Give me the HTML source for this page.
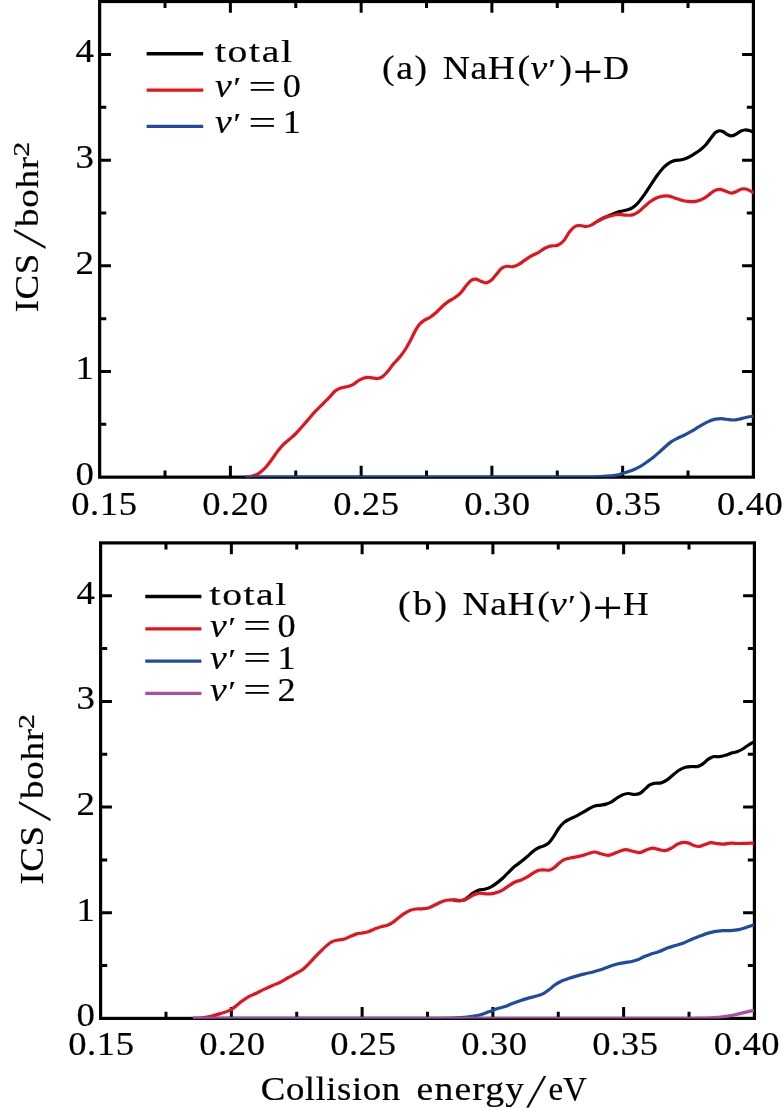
<!DOCTYPE html>
<html lang="en">
<head>
<meta charset="utf-8">
<title>ICS vs collision energy</title>
<style>
html,body{margin:0;padding:0;background:#fff;}
body{width:784px;height:1108px;overflow:hidden;}
svg{display:block;}
</style>
</head>
<body>
<svg width="784" height="1108" viewBox="0 0 784 1108" font-family="'Liberation Serif', 'DejaVu Serif', serif" font-size="33.0" fill="#000">
<style>text{stroke:#000;stroke-width:0.2px;}</style>
<rect x="99.65" y="1.50" width="653.75" height="475.65" fill="none" stroke="#000" stroke-width="3.20"/>
<path d="M165.02 477.15V470.55M165.02 1.50V8.10M230.40 477.15V465.85M230.40 1.50V12.80M295.78 477.15V470.55M295.78 1.50V8.10M361.15 477.15V465.85M361.15 1.50V12.80M426.53 477.15V470.55M426.53 1.50V8.10M491.90 477.15V465.85M491.90 1.50V12.80M557.28 477.15V470.55M557.28 1.50V8.10M622.65 477.15V465.85M622.65 1.50V12.80M688.02 477.15V470.55M688.02 1.50V8.10M99.65 424.32H106.25M753.40 424.32H746.80M99.65 371.50H110.95M753.40 371.50H742.10M99.65 318.67H106.25M753.40 318.67H746.80M99.65 265.85H110.95M753.40 265.85H742.10M99.65 213.02H106.25M753.40 213.02H746.80M99.65 160.20H110.95M753.40 160.20H742.10M99.65 107.37H106.25M753.40 107.37H746.80M99.65 54.55H110.95M753.40 54.55H742.10" stroke="#000" stroke-width="3.00" fill="none"/>
<rect x="100.60" y="542.90" width="653.80" height="475.50" fill="none" stroke="#000" stroke-width="3.20"/>
<path d="M165.98 1018.40V1011.80M165.98 542.90V549.50M231.36 1018.40V1007.10M231.36 542.90V554.20M296.74 1018.40V1011.80M296.74 542.90V549.50M362.12 1018.40V1007.10M362.12 542.90V554.20M427.50 1018.40V1011.80M427.50 542.90V549.50M492.88 1018.40V1007.10M492.88 542.90V554.20M558.26 1018.40V1011.80M558.26 542.90V549.50M623.64 1018.40V1007.10M623.64 542.90V554.20M689.02 1018.40V1011.80M689.02 542.90V549.50M100.60 965.57H107.20M754.40 965.57H747.80M100.60 912.75H111.90M754.40 912.75H743.10M100.60 859.92H107.20M754.40 859.92H747.80M100.60 807.10H111.90M754.40 807.10H743.10M100.60 754.27H107.20M754.40 754.27H747.80M100.60 701.45H111.90M754.40 701.45H743.10M100.60 648.62H107.20M754.40 648.62H747.80M100.60 595.80H111.90M754.40 595.80H743.10" stroke="#000" stroke-width="3.00" fill="none"/>
<defs><clipPath id="ca"><rect x="99.65" y="1.50" width="654.05" height="475.65"/></clipPath><clipPath id="cb"><rect x="100.60" y="542.90" width="654.10" height="475.50"/></clipPath></defs>
<g clip-path="url(#ca)">
<path d="M597.30 221.40C599.37 220.27 601.43 219.01 603.50 218.00C605.87 216.84 608.23 215.97 610.60 215.00C613.20 213.93 615.80 212.71 618.40 211.90C621.10 211.06 623.80 210.96 626.50 210.10C628.53 209.45 630.57 209.04 632.60 207.70C634.60 206.39 636.60 204.44 638.60 202.20C640.63 199.92 642.67 196.98 644.70 194.10C646.73 191.22 648.77 187.97 650.80 184.90C652.83 181.83 654.87 178.50 656.90 175.70C658.97 172.86 661.03 170.16 663.10 168.00C665.13 165.87 667.17 164.07 669.20 162.80C671.23 161.53 673.27 160.90 675.30 160.40C677.33 159.90 679.37 160.24 681.40 159.80C683.47 159.35 685.53 158.63 687.60 157.70C689.63 156.79 691.67 155.55 693.70 154.30C695.73 153.05 697.77 151.80 699.80 150.20C701.83 148.60 703.87 146.99 705.90 144.70C707.60 142.79 709.30 140.19 711.00 138.00C712.37 136.24 713.73 134.00 715.10 132.80C716.47 131.60 717.83 130.97 719.20 130.80C720.57 130.63 721.93 131.17 723.30 131.80C724.63 132.42 725.97 133.82 727.30 134.50C728.67 135.20 730.03 135.90 731.40 135.90C732.77 135.90 734.13 135.15 735.50 134.50C737.20 133.69 738.90 131.97 740.60 131.20C741.97 130.58 743.33 130.13 744.70 130.00C746.07 129.87 747.43 130.11 748.80 130.40C750.33 130.73 751.87 131.47 753.40 132.00" fill="none" stroke="#000" stroke-width="3.20" stroke-linejoin="round" stroke-linecap="butt"/>
<path d="M244.90 477.15C246.60 477.00 248.30 477.02 250.00 476.70C251.37 476.44 252.73 476.11 254.10 475.60C256.03 474.88 257.97 473.98 259.90 472.60C261.93 471.15 263.97 469.26 266.00 467.00C268.00 464.78 270.00 461.90 272.00 459.20C274.00 456.50 276.00 453.37 278.00 450.80C279.90 448.36 281.80 446.02 283.70 444.10C285.73 442.04 287.77 440.77 289.80 439.00C291.83 437.23 293.87 435.55 295.90 433.50C297.93 431.45 299.97 429.00 302.00 426.70C304.07 424.37 306.13 422.00 308.20 419.60C310.23 417.24 312.27 414.62 314.30 412.40C316.33 410.18 318.37 408.33 320.40 406.30C322.43 404.27 324.47 402.23 326.50 400.20C327.67 399.03 328.83 397.92 330.00 396.70C331.70 394.92 333.40 392.43 335.10 391.00C337.23 389.20 339.37 388.55 341.50 387.80C343.63 387.05 345.77 387.13 347.90 386.50C349.60 385.99 351.30 385.49 353.00 384.60C355.10 383.50 357.20 381.26 359.30 380.10C361.43 378.92 363.57 377.98 365.70 377.60C367.83 377.22 369.97 377.63 372.10 377.80C374.00 377.95 375.90 378.77 377.80 378.50C379.30 378.28 380.80 377.89 382.30 376.90C384.00 375.78 385.70 373.72 387.40 371.80C389.53 369.39 391.67 366.05 393.80 363.50C395.93 360.95 398.07 359.16 400.20 356.50C401.90 354.38 403.60 352.15 405.30 349.50C407.00 346.85 408.70 343.78 410.40 340.60C412.10 337.42 413.80 333.34 415.50 330.40C416.77 328.21 418.03 326.17 419.30 324.60C421.00 322.49 422.70 321.37 424.40 320.20C426.20 318.96 428.00 318.63 429.80 317.50C431.83 316.23 433.87 314.60 435.90 312.80C437.93 311.00 439.97 308.55 442.00 306.70C444.07 304.82 446.13 303.06 448.20 301.60C450.23 300.17 452.27 299.42 454.30 298.00C456.33 296.58 458.37 295.22 460.40 293.10C462.43 290.98 464.47 287.59 466.50 285.30C468.20 283.38 469.90 281.19 471.60 280.20C472.97 279.41 474.33 279.15 475.70 279.20C477.40 279.27 479.10 280.60 480.80 281.20C482.50 281.80 484.20 282.90 485.90 282.80C487.60 282.70 489.30 281.93 491.00 280.60C492.77 279.21 494.53 276.57 496.30 274.50C498.00 272.50 499.70 269.77 501.40 268.40C503.10 267.03 504.80 266.63 506.50 266.30C508.57 265.89 510.63 267.04 512.70 266.70C514.73 266.36 516.77 265.38 518.80 264.30C520.83 263.22 522.87 261.57 524.90 260.20C526.93 258.83 528.97 257.29 531.00 256.10C533.40 254.69 535.80 253.96 538.20 252.60C540.57 251.26 542.93 249.15 545.30 248.00C547.33 247.01 549.37 246.35 551.40 245.90C553.47 245.44 555.53 246.17 557.60 245.30C559.63 244.45 561.67 243.08 563.70 240.80C565.73 238.52 567.77 234.10 569.80 231.60C571.50 229.51 573.20 227.52 574.90 226.50C576.60 225.48 578.30 225.55 580.00 225.50C582.03 225.43 584.07 226.65 586.10 226.50C587.80 226.37 589.50 225.82 591.20 225.10C593.23 224.23 595.27 222.57 597.30 221.40C599.37 220.21 601.43 218.89 603.50 218.00C605.87 216.98 608.23 216.48 610.60 215.90C613.23 215.25 615.87 214.52 618.50 214.40C621.17 214.28 623.83 215.16 626.50 215.20C628.53 215.23 630.57 215.48 632.60 214.90C634.60 214.33 636.60 213.22 638.60 211.80C640.63 210.36 642.67 208.07 644.70 206.30C646.73 204.53 648.77 202.63 650.80 201.20C652.83 199.77 654.87 198.55 656.90 197.70C658.97 196.84 661.03 196.36 663.10 196.10C665.13 195.84 667.17 195.75 669.20 196.10C671.23 196.45 673.27 197.52 675.30 198.20C677.33 198.88 679.37 199.67 681.40 200.20C683.47 200.74 685.53 201.17 687.60 201.40C689.63 201.63 691.67 201.80 693.70 201.60C695.73 201.40 697.77 200.95 699.80 200.20C701.83 199.45 703.87 198.44 705.90 197.10C707.60 195.98 709.30 194.31 711.00 193.10C712.37 192.12 713.73 191.02 715.10 190.40C716.80 189.63 718.50 189.30 720.20 189.40C721.90 189.50 723.60 190.44 725.30 191.00C727.33 191.67 729.37 193.15 731.40 193.10C733.10 193.06 734.80 192.08 736.50 191.40C738.20 190.72 739.90 189.36 741.60 189.00C742.97 188.71 744.33 188.73 745.70 189.00C747.07 189.27 748.43 189.92 749.80 190.60C751.17 191.28 752.53 192.27 753.90 193.10" fill="none" stroke="#e5141c" stroke-width="3.20" stroke-linejoin="round" stroke-linecap="butt"/>
<path d="M244.90 477.15C249.93 477.15 254.97 477.15 260.00 477.15C363.33 477.15 466.67 477.15 570.00 477.15C574.00 477.15 578.00 477.18 582.00 477.15C585.33 477.12 588.67 477.10 592.00 477.00C594.67 476.92 597.33 476.80 600.00 476.65C603.40 476.46 606.80 476.29 610.20 475.90C612.93 475.59 615.67 475.32 618.40 474.70C621.10 474.08 623.80 473.11 626.50 472.20C629.23 471.28 631.97 470.42 634.70 469.20C636.73 468.29 638.77 467.30 640.80 466.10C642.83 464.90 644.87 463.42 646.90 462.00C648.97 460.56 651.03 459.15 653.10 457.50C655.13 455.88 657.17 454.00 659.20 452.20C661.23 450.40 663.27 448.47 665.30 446.70C667.33 444.93 669.37 443.01 671.40 441.60C673.47 440.17 675.53 439.22 677.60 438.20C679.63 437.19 681.67 436.50 683.70 435.50C685.73 434.50 687.77 433.35 689.80 432.20C691.83 431.05 693.87 429.82 695.90 428.60C697.93 427.38 699.97 426.06 702.00 424.90C704.07 423.72 706.13 422.54 708.20 421.60C709.90 420.83 711.60 420.07 713.30 419.60C715.00 419.13 716.70 418.93 718.40 418.80C720.10 418.67 721.80 418.67 723.50 418.80C725.20 418.93 726.90 419.40 728.60 419.60C730.30 419.80 732.00 420.07 733.70 420.00C735.40 419.93 737.10 419.54 738.80 419.20C740.83 418.80 742.87 418.15 744.90 417.70C746.93 417.25 748.97 416.85 751.00 416.50C751.83 416.36 752.67 416.23 753.50 416.10" fill="none" stroke="#1f4ca0" stroke-width="3.20" stroke-linejoin="round" stroke-linecap="butt"/>
</g>
<g clip-path="url(#cb)">
<path d="M452.70 899.80C454.73 900.07 456.77 900.61 458.80 900.60C460.50 900.59 462.20 900.72 463.90 900.00C465.43 899.35 466.97 897.99 468.50 896.80C469.87 895.74 471.23 894.29 472.60 893.30C474.53 891.91 476.47 890.88 478.40 890.20C480.43 889.48 482.47 889.72 484.50 889.20C486.53 888.68 488.57 888.12 490.60 887.10C492.63 886.08 494.67 884.60 496.70 883.10C498.77 881.57 500.83 879.90 502.90 878.00C504.93 876.13 506.97 873.78 509.00 871.80C511.03 869.82 513.07 867.80 515.10 866.10C517.13 864.40 519.17 863.20 521.20 861.60C523.23 860.00 525.27 858.25 527.30 856.50C529.37 854.72 531.43 852.54 533.50 851.00C535.20 849.73 536.90 848.65 538.60 847.80C540.30 846.95 542.00 846.72 543.70 845.90C545.40 845.08 547.10 844.53 548.80 842.90C550.50 841.27 552.20 838.58 553.90 836.10C555.60 833.62 557.30 830.28 559.00 828.00C560.70 825.72 562.40 823.87 564.10 822.40C566.13 820.64 568.17 819.85 570.20 818.80C572.23 817.75 574.27 817.13 576.30 816.10C578.33 815.07 580.37 813.77 582.40 812.60C584.47 811.41 586.53 810.09 588.60 809.00C590.63 807.93 592.67 806.75 594.70 806.10C596.73 805.45 598.77 805.46 600.80 805.10C602.53 804.79 604.27 804.60 606.00 804.10C607.67 803.62 609.33 803.10 611.00 802.20C612.70 801.28 614.40 799.72 616.10 798.60C618.13 797.26 620.17 795.75 622.20 794.90C624.27 794.04 626.33 793.56 628.40 793.50C630.43 793.44 632.47 794.57 634.50 794.50C636.20 794.45 637.90 794.35 639.60 793.50C641.30 792.65 643.00 790.83 644.70 789.40C646.40 787.97 648.10 785.92 649.80 784.90C651.50 783.88 653.20 783.64 654.90 783.30C656.93 782.89 658.97 783.48 661.00 782.90C663.03 782.32 665.07 781.15 667.10 779.80C669.17 778.43 671.23 776.35 673.30 774.70C675.33 773.08 677.37 771.23 679.40 770.00C681.43 768.77 683.47 767.88 685.50 767.30C687.53 766.72 689.57 766.63 691.60 766.50C693.67 766.36 695.73 767.08 697.80 766.50C699.50 766.02 701.20 765.08 702.90 763.90C704.60 762.72 706.30 760.60 708.00 759.40C709.70 758.20 711.40 757.19 713.10 756.70C715.13 756.11 717.17 756.93 719.20 756.70C721.23 756.47 723.27 755.90 725.30 755.30C727.33 754.70 729.37 753.71 731.40 753.10C733.47 752.48 735.53 752.40 737.60 751.60C739.30 750.94 741.00 750.02 742.70 749.00C744.40 747.98 746.10 746.60 747.80 745.50C749.87 744.17 751.93 743.03 754.00 741.80" fill="none" stroke="#000" stroke-width="3.20" stroke-linejoin="round" stroke-linecap="butt"/>
<path d="M192.90 1018.40C195.47 1018.27 198.03 1018.26 200.60 1018.00C204.00 1017.66 207.40 1017.07 210.80 1016.30C214.20 1015.53 217.60 1014.47 221.00 1013.40C223.73 1012.54 226.47 1012.03 229.20 1010.60C231.23 1009.54 233.27 1008.13 235.30 1006.60C237.33 1005.07 239.37 1002.94 241.40 1001.40C243.47 999.83 245.53 998.49 247.60 997.30C250.30 995.74 253.00 994.81 255.70 993.50C258.43 992.18 261.17 990.71 263.90 989.40C266.60 988.11 269.30 986.89 272.00 985.70C274.73 984.49 277.47 983.57 280.20 982.20C282.93 980.83 285.67 979.03 288.40 977.50C291.10 975.99 293.80 974.65 296.50 973.10C298.57 971.91 300.63 970.99 302.70 969.40C304.73 967.84 306.77 965.75 308.80 963.70C310.83 961.65 312.87 959.22 314.90 957.10C316.93 954.98 318.97 952.99 321.00 951.00C322.70 949.34 324.40 947.56 326.10 946.10C328.13 944.35 330.17 942.62 332.20 941.60C334.27 940.57 336.33 940.44 338.40 940.00C340.43 939.57 342.47 939.62 344.50 939.00C346.53 938.38 348.57 937.15 350.60 936.30C352.63 935.45 354.67 934.47 356.70 933.90C358.77 933.32 360.83 933.32 362.90 932.90C364.93 932.49 366.97 932.08 369.00 931.40C371.03 930.72 373.07 929.58 375.10 928.80C377.13 928.02 379.17 927.28 381.20 926.70C383.23 926.12 385.27 926.10 387.30 925.30C389.00 924.63 390.70 923.70 392.40 922.60C394.13 921.48 395.87 919.93 397.60 918.60C399.63 917.03 401.67 915.27 403.70 913.90C405.73 912.53 407.77 911.22 409.80 910.40C411.83 909.58 413.87 909.27 415.90 909.00C417.93 908.73 419.97 908.96 422.00 908.80C424.07 908.63 426.13 908.59 428.20 908.00C430.23 907.42 432.27 906.27 434.30 905.30C436.33 904.33 438.37 903.05 440.40 902.20C442.43 901.35 444.47 900.60 446.50 900.20C448.57 899.79 450.63 899.73 452.70 899.80C454.73 899.87 456.77 900.57 458.80 900.60C460.50 900.63 462.20 900.70 463.90 900.20C465.60 899.70 467.30 898.53 469.00 897.60C470.67 896.69 472.33 895.43 474.00 894.70C475.47 894.05 476.93 893.53 478.40 893.30C480.43 892.98 482.47 893.60 484.50 893.70C486.53 893.80 488.57 894.08 490.60 893.90C492.63 893.72 494.67 893.27 496.70 892.60C498.77 891.92 500.83 890.96 502.90 889.80C504.93 888.66 506.97 887.00 509.00 885.70C511.03 884.40 513.07 882.95 515.10 882.00C517.13 881.05 519.17 880.85 521.20 880.00C523.23 879.15 525.27 878.07 527.30 876.90C529.37 875.71 531.43 874.10 533.50 872.90C535.20 871.91 536.90 870.72 538.60 870.20C540.30 869.68 542.00 869.80 543.70 869.80C545.40 869.80 547.10 870.53 548.80 870.20C550.50 869.87 552.20 868.95 553.90 867.80C555.60 866.65 557.30 864.67 559.00 863.30C560.70 861.93 562.40 860.47 564.10 859.60C566.13 858.55 568.17 858.45 570.20 858.00C572.23 857.55 574.27 857.32 576.30 856.90C578.33 856.48 580.37 856.06 582.40 855.50C584.47 854.93 586.53 854.09 588.60 853.50C590.63 852.92 592.67 851.97 594.70 852.00C596.73 852.03 598.77 853.19 600.80 853.70C603.27 854.32 605.73 855.41 608.20 855.30C610.90 855.18 613.60 853.49 616.30 852.60C619.37 851.59 622.43 849.66 625.50 849.60C627.90 849.56 630.30 850.70 632.70 851.20C635.07 851.70 637.43 852.83 639.80 852.60C642.17 852.37 644.53 850.56 646.90 849.80C648.97 849.14 651.03 848.23 653.10 848.20C655.13 848.17 657.17 849.20 659.20 849.60C661.23 850.00 663.27 850.83 665.30 850.60C667.33 850.37 669.37 849.27 671.40 848.20C673.47 847.11 675.53 845.07 677.60 844.10C679.63 843.15 681.67 842.51 683.70 842.40C685.40 842.31 687.10 842.58 688.80 843.10C690.50 843.62 692.20 844.93 693.90 845.50C695.60 846.07 697.30 846.57 699.00 846.50C701.03 846.41 703.07 845.15 705.10 844.50C707.13 843.85 709.17 842.73 711.20 842.60C713.23 842.47 715.27 843.45 717.30 843.70C719.37 843.95 721.43 844.16 723.50 844.10C725.87 844.03 728.23 843.23 730.60 843.10C733.33 842.96 736.07 843.47 738.80 843.50C741.50 843.53 744.20 843.37 746.90 843.30C749.27 843.24 751.63 843.17 754.00 843.10" fill="none" stroke="#e5141c" stroke-width="3.20" stroke-linejoin="round" stroke-linecap="butt"/>
<path d="M192.90 1018.40C198.60 1018.40 204.30 1018.40 210.00 1018.40C283.33 1018.40 356.67 1018.40 430.00 1018.40C434.00 1018.40 438.00 1018.44 442.00 1018.40C445.33 1018.36 448.67 1018.34 452.00 1018.20C454.73 1018.08 457.47 1017.94 460.20 1017.70C463.60 1017.41 467.00 1017.00 470.40 1016.50C473.80 1016.00 477.20 1015.63 480.60 1014.70C483.33 1013.95 486.07 1012.79 488.80 1011.80C491.50 1010.82 494.20 1009.68 496.90 1008.80C499.63 1007.91 502.37 1007.44 505.10 1006.50C507.13 1005.80 509.17 1004.89 511.20 1004.10C513.93 1003.04 516.67 1001.95 519.40 1001.00C522.13 1000.05 524.87 999.19 527.60 998.40C530.30 997.62 533.00 997.11 535.70 996.30C538.10 995.58 540.50 995.14 542.90 993.90C544.93 992.85 546.97 991.33 549.00 989.80C551.03 988.27 553.07 986.13 555.10 984.70C557.13 983.27 559.17 982.17 561.20 981.20C563.60 980.06 566.00 979.41 568.40 978.60C571.10 977.69 573.80 976.88 576.50 976.10C579.23 975.31 581.97 974.58 584.70 973.90C587.43 973.22 590.17 972.72 592.90 972.00C595.43 971.34 597.97 970.64 600.50 969.80C603.07 968.95 605.63 967.80 608.20 966.90C610.90 965.96 613.60 965.01 616.30 964.30C619.03 963.58 621.77 963.12 624.50 962.60C627.23 962.08 629.97 961.84 632.70 961.20C634.40 960.80 636.10 960.45 637.80 959.80C639.83 959.03 641.87 957.60 643.90 956.70C646.27 955.65 648.63 954.90 651.00 954.10C653.73 953.18 656.47 952.63 659.20 951.60C661.90 950.59 664.60 949.01 667.30 948.00C670.03 946.97 672.77 946.35 675.50 945.50C678.23 944.65 680.97 943.96 683.70 942.90C686.40 941.85 689.10 940.33 691.80 939.20C694.53 938.06 697.27 937.12 700.00 936.10C702.73 935.08 705.47 933.91 708.20 933.10C710.23 932.50 712.27 931.99 714.30 931.60C717.00 931.08 719.70 930.77 722.40 930.60C725.13 930.43 727.87 930.77 730.60 930.60C733.33 930.43 736.07 930.19 738.80 929.60C741.17 929.09 743.53 928.26 745.90 927.50C748.60 926.64 751.30 925.63 754.00 924.70" fill="none" stroke="#1f4ca0" stroke-width="3.20" stroke-linejoin="round" stroke-linecap="butt"/>
<path d="M192.90 1018.40C198.60 1018.40 204.30 1018.40 210.00 1018.40C366.67 1018.40 523.33 1018.40 680.00 1018.40C684.00 1018.40 688.00 1018.44 692.00 1018.40C695.33 1018.36 698.67 1018.32 702.00 1018.20C704.73 1018.10 707.47 1017.96 710.20 1017.80C714.27 1017.56 718.33 1017.38 722.40 1016.90C725.83 1016.49 729.27 1015.97 732.70 1015.30C736.10 1014.64 739.50 1013.71 742.90 1012.90C746.60 1012.02 750.30 1011.10 754.00 1010.20" fill="none" stroke="#a9509f" stroke-width="3.20" stroke-linejoin="round" stroke-linecap="butt"/>
</g>
<path d="M146.6 53.8H203.2" stroke="#000" stroke-width="3.4"/>
<path d="M146.6 90.1H203.2" stroke="#e5141c" stroke-width="3.4"/>
<path d="M146.6 126.4H203.2" stroke="#1f4ca0" stroke-width="3.4"/>
<path d="M145.3 596.5H201.4" stroke="#000" stroke-width="3.4"/>
<path d="M145.3 628.9H201.4" stroke="#e5141c" stroke-width="3.4"/>
<path d="M145.3 661.1H201.4" stroke="#1f4ca0" stroke-width="3.4"/>
<path d="M145.3 693.4H201.4" stroke="#a9509f" stroke-width="3.4"/>
<text transform="translate(214.9 62.1) scale(1.260 1)" textLength="61.13" lengthAdjust="spacing" font-size="31.5">total</text>
<text transform="translate(215.0 97.3) scale(1.140 1)" font-style="italic">v</text>
<text transform="translate(233.5 97.3) scale(1.140 1)" font-size="30.0">′</text>
<text transform="translate(248.4 97.8) scale(1.450 1)" font-size="34.0">=</text>
<text transform="translate(282.7 97.3) scale(1.100 1)">0</text>
<text transform="translate(215.0 133.0) scale(1.140 1)" font-style="italic">v</text>
<text transform="translate(233.5 133.0) scale(1.140 1)" font-size="30.0">′</text>
<text transform="translate(248.4 133.5) scale(1.450 1)" font-size="34.0">=</text>
<text transform="translate(282.7 133.0) scale(1.100 1)">1</text>
<text transform="translate(209.6 605.2) scale(1.260 1)" textLength="60.86" lengthAdjust="spacing" font-size="31.5">total</text>
<text transform="translate(209.9 636.8) scale(1.140 1)" font-style="italic">v</text>
<text transform="translate(228.4 636.8) scale(1.140 1)" font-size="30.0">′</text>
<text transform="translate(243.3 637.3) scale(1.450 1)" font-size="34.0">=</text>
<text transform="translate(277.6 636.8) scale(1.100 1)">0</text>
<text transform="translate(209.9 668.6) scale(1.140 1)" font-style="italic">v</text>
<text transform="translate(228.4 668.6) scale(1.140 1)" font-size="30.0">′</text>
<text transform="translate(243.3 669.1) scale(1.450 1)" font-size="34.0">=</text>
<text transform="translate(277.6 668.6) scale(1.100 1)">1</text>
<text transform="translate(209.9 700.8) scale(1.140 1)" font-style="italic">v</text>
<text transform="translate(228.4 700.8) scale(1.140 1)" font-size="30.0">′</text>
<text transform="translate(243.3 701.3) scale(1.450 1)" font-size="34.0">=</text>
<text transform="translate(277.6 700.8) scale(1.100 1)">2</text>
<text transform="translate(382.1 78.6) scale(1.140 1)" textLength="39.42" lengthAdjust="spacing">(a)</text>
<text transform="translate(442.7 78.6) scale(1.122 1)" textLength="64.37" lengthAdjust="spacing" font-size="33.5">NaH</text>
<text transform="translate(517.5 78.6) scale(1.140 1)">(</text>
<text transform="translate(530.4 78.6) scale(1.140 1)" font-style="italic">v</text>
<text transform="translate(548.6 78.6) scale(1.140 1)" font-size="30.0">′</text>
<text transform="translate(559.4 78.6) scale(1.140 1)">)</text>
<text transform="translate(572.8 86.6) scale(1.160 1)" font-size="46.0" stroke="none">+</text>
<text transform="translate(603.3 78.6) scale(1.080 1)">D</text>
<text transform="translate(398.1 614.6) scale(1.140 1)" textLength="42.90" lengthAdjust="spacing">(b)</text>
<text transform="translate(462.4 614.6) scale(1.122 1)" textLength="64.37" lengthAdjust="spacing" font-size="33.5">NaH</text>
<text transform="translate(537.2 614.6) scale(1.140 1)">(</text>
<text transform="translate(550.1 614.6) scale(1.140 1)" font-style="italic">v</text>
<text transform="translate(568.3 614.6) scale(1.140 1)" font-size="30.0">′</text>
<text transform="translate(579.1 614.6) scale(1.140 1)">)</text>
<text transform="translate(592.5 622.6) scale(1.160 1)" font-size="46.0" stroke="none">+</text>
<text transform="translate(623.0 614.6) scale(1.080 1)">H</text>
<text transform="translate(71.2 515.4) scale(1.093 1)" textLength="60.23" lengthAdjust="spacing" font-size="33.5">0.15</text>
<text transform="translate(68.2 1055.1) scale(1.093 1)" textLength="60.23" lengthAdjust="spacing" font-size="33.5">0.15</text>
<text transform="translate(202.2 515.4) scale(1.093 1)" textLength="60.23" lengthAdjust="spacing" font-size="33.5">0.20</text>
<text transform="translate(199.2 1055.1) scale(1.093 1)" textLength="60.23" lengthAdjust="spacing" font-size="33.5">0.20</text>
<text transform="translate(333.2 515.4) scale(1.093 1)" textLength="60.23" lengthAdjust="spacing" font-size="33.5">0.25</text>
<text transform="translate(330.2 1055.1) scale(1.093 1)" textLength="60.23" lengthAdjust="spacing" font-size="33.5">0.25</text>
<text transform="translate(464.2 515.4) scale(1.093 1)" textLength="60.23" lengthAdjust="spacing" font-size="33.5">0.30</text>
<text transform="translate(461.2 1055.1) scale(1.093 1)" textLength="60.23" lengthAdjust="spacing" font-size="33.5">0.30</text>
<text transform="translate(595.2 515.4) scale(1.093 1)" textLength="60.23" lengthAdjust="spacing" font-size="33.5">0.35</text>
<text transform="translate(592.2 1055.1) scale(1.093 1)" textLength="60.23" lengthAdjust="spacing" font-size="33.5">0.35</text>
<text transform="translate(717.1 515.4) scale(1.093 1)" textLength="60.23" lengthAdjust="spacing" font-size="33.5">0.40</text>
<text transform="translate(713.8 1055.1) scale(1.093 1)" textLength="60.23" lengthAdjust="spacing" font-size="33.5">0.40</text>
<text transform="translate(75.5 484.8) scale(1.100 1)" font-size="33.5">0</text>
<text transform="translate(76.5 1026.1) scale(1.100 1)" font-size="33.5">0</text>
<text transform="translate(75.5 379.2) scale(1.100 1)" font-size="33.5">1</text>
<text transform="translate(76.5 920.5) scale(1.100 1)" font-size="33.5">1</text>
<text transform="translate(75.5 273.5) scale(1.100 1)" font-size="33.5">2</text>
<text transform="translate(76.5 814.8) scale(1.100 1)" font-size="33.5">2</text>
<text transform="translate(75.5 167.9) scale(1.100 1)" font-size="33.5">3</text>
<text transform="translate(76.5 709.1) scale(1.100 1)" font-size="33.5">3</text>
<text transform="translate(75.5 62.2) scale(1.100 1)" font-size="33.5">4</text>
<text transform="translate(76.5 603.5) scale(1.100 1)" font-size="33.5">4</text>
<text transform="translate(260.8 1099.6) scale(1.099 1)" textLength="126.73" lengthAdjust="spacing" font-size="33.5">Collision</text>
<text transform="translate(416.6 1099.6) scale(1.140 1)" textLength="94.33" lengthAdjust="spacing">energy</text>
<text transform="translate(526.5 1106.6) skewX(-12.0) scale(1.000 1)" font-size="47.0" stroke="none">/</text>
<text transform="translate(548.4 1099.6) scale(0.970 1)" font-size="34.0">eV</text>
<g transform="translate(38.4 312.3) rotate(-90)">
<text transform="translate(0.0 0.0) scale(1.083 1)" textLength="54.06" lengthAdjust="spacing" font-size="34.0">ICS</text>
<text transform="translate(63.6 7.0) skewX(-12.0) scale(1.000 1)" font-size="47.0" stroke="none">/</text>
<text transform="translate(85.4 0.0) scale(1.140 1)" textLength="61.50" lengthAdjust="spacing" font-size="32.5">bohr</text>
<text transform="translate(155.6 -9.6) scale(1.320 1)" font-size="22.8">2</text>
</g>
<g transform="translate(43.4 884.5) rotate(-90)">
<text transform="translate(0.0 0.0) scale(1.083 1)" textLength="54.06" lengthAdjust="spacing" font-size="34.0">ICS</text>
<text transform="translate(63.6 7.0) skewX(-12.0) scale(1.000 1)" font-size="47.0" stroke="none">/</text>
<text transform="translate(85.4 0.0) scale(1.140 1)" textLength="61.50" lengthAdjust="spacing" font-size="32.5">bohr</text>
<text transform="translate(155.6 -9.6) scale(1.320 1)" font-size="22.8">2</text>
</g>
</svg>
</body>
</html>
